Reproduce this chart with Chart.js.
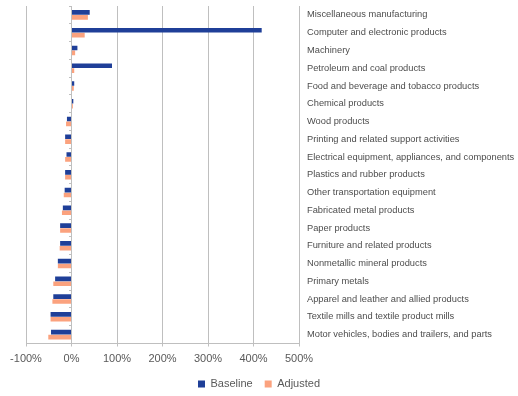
<!DOCTYPE html>
<html>
<head>
<meta charset="utf-8">
<script src="https://cdn.jsdelivr.net/npm/chart.js@4/dist/chart.umd.min.js"></script>
<style>
html,body{margin:0;padding:0;background:#fff;}
#wrap{width:518px;height:396px;position:relative;}
</style>
</head>
<body>
<div id="wrap"><canvas id="c"></canvas></div>
<script>
const categories = [
  "Miscellaneous manufacturing",
  "Computer and electronic products",
  "Machinery",
  "Petroleum and coal products",
  "Food and beverage and tobacco products",
  "Chemical products",
  "Wood products",
  "Printing and related support activities",
  "Electrical equipment, appliances, and components",
  "Plastics and rubber products",
  "Other transportation equipment",
  "Fabricated metal products",
  "Paper products",
  "Furniture and related products",
  "Nonmetallic mineral products",
  "Primary metals",
  "Apparel and leather and allied products",
  "Textile mills and textile product mills",
  "Motor vehicles, bodies and trailers, and parts"
];
const baseline = [40, 418, 13, 89, 6, 4, -10, -14, -11, -14, -15, -19, -25, -25, -30, -36, -40, -46, -45];
const adjusted = [36, 29, 8, 6, 5, 3, -12, -14, -14, -14, -17, -21, -25, -26, -30, -40, -42, -46, -51];
const xTicks = [-100, 0, 100, 200, 300, 400, 500];

new Chart(document.getElementById('c'), {
  type: 'bar',
  data: {
    labels: categories,
    datasets: [
      {label: 'Baseline', data: baseline, backgroundColor: '#1F3F98', borderWidth: 0},
      {label: 'Adjusted', data: adjusted, backgroundColor: '#FBA27E', borderWidth: 0}
    ]
  },
  options: {
    indexAxis: 'y',
    responsive: true,
    maintainAspectRatio: false,
    animation: false,
    layout: {padding: {left: 0, right: 0, top: 6, bottom: -3.5}},
    datasets: {bar: {categoryPercentage: 0.55, barPercentage: 0.95}},
    scales: {
      x: {
        min: xTicks[0], max: xTicks[xTicks.length - 1],
        afterBuildTicks: s => { s.ticks = xTicks.map(v => ({value: v})); },
        grid: {color: '#BFBFBF', lineWidth: 1, drawTicks: true, tickLength: 3, tickColor: '#BFBFBF'},
        border: {color: '#BFBFBF'},
        ticks: {color: '#595959', font: {family: 'Liberation Sans', size: 11}, padding: 6,
          callback: v => v + '%', maxRotation: 0},
        afterFit: s => { s.height = 23; s.paddingLeft = 26; s.paddingRight = 0; }
      },
      y: {
        position: 'right',
        grid: {display: false, drawTicks: false, tickLength: 0},
        border: {color: '#BFBFBF'},
        ticks: {color: '#4D4D4D', font: {family: 'Liberation Sans', size: 9.3}, padding: 8, autoSkip: false},
        afterFit: s => { s.width = 219; s.paddingTop = 0; s.paddingBottom = 0; }
      },
      y0: {
        type: 'category',
        axis: 'y',
        position: {x: 0},
        grid: {drawOnChartArea: false, drawTicks: true, tickLength: 3, tickColor: '#BFBFBF', offset: true},
        border: {display: false},
        ticks: {display: false}
      }
    },
    plugins: {
      legend: {
        position: 'bottom',
        labels: {color: '#595959', font: {family: 'Liberation Sans', size: 11}, boxWidth: 7, boxHeight: 7, padding: 12}
      },
      tooltip: {enabled: false}
    }
  }
});
</script>
</body>
</html>
